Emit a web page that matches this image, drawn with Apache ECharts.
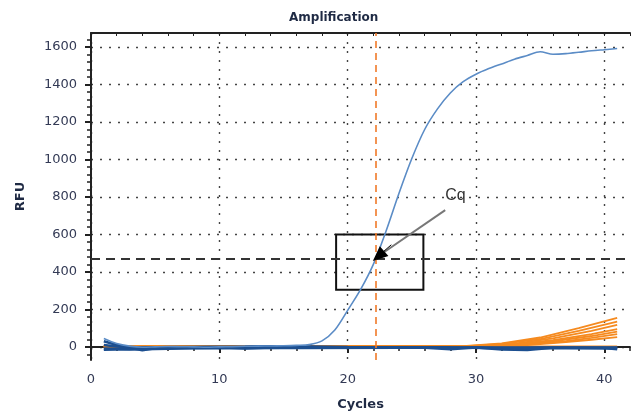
<!DOCTYPE html>
<html>
<head>
<meta charset="utf-8">
<script src="https://cdn.jsdelivr.net/npm/echarts@6/dist/echarts.min.js"></script>
<style>
  html, body { margin: 0; padding: 0; background: #fff; }
  #chart { width: 635px; height: 412px; }
</style>
</head>
<body>
<div id="chart"></div>
<script>
// cycles 1..41
const cycles = [1,2,3,4,5,6,7,8,9,10,11,12,13,14,15,16,17,18,19,20,21,22,23,24,25,26,27,28,29,30,31,32,33,34,35,36,37,38,39,40,41]

// the amplifying sample
const ampRfu = [45,18,4,-2,0,2,1,0,-2,0,1,3,4,5,6,8,12,32,90,195,305,440,620,820,1005,1160,1270,1355,1415,1455,1485,1510,1535,1555,1575,1562,1565,1572,1580,1586,1592]

// flat blue wells near the baseline, [cycle, rfu]
const base1 = [[1,30],[2,10],[3,-5],[4,-18],[5,-8],[7,-4],[10,-2],[12,-8],[14,-3],[20,-2],[26,-5],[28,-12],[30,-3],[32,-14],[34,-16],[36,-5],[40,-6],[41,-12]]
const base2 = [[1,-8],[2,-10],[3,-12],[4,-10],[6,-6],[10,-5],[16,-6],[24,-5],[30,-4],[33,-10],[35,-5],[41,-8]]
const base3 = [[1,10],[2,2],[3,-3],[5,-2],[12,2],[13,4],[16,3],[20,0],[28,-2],[41,-3]]
const base4 = [[1,-15],[2,-14],[4,-12],[8,-7],[15,-4],[25,-3],[33,-6],[41,-5]]

// orange wells that creep up late
const orange1 = [[1,4],[29,4],[32,18],[35,50],[38,100],[41,155]]
const orange2 = [[1,3],[29,3],[32,16],[35,42],[38,85],[41,135]]
const orange3 = [[1,3],[30,3],[33,17],[36,45],[39,85],[41,118]]
const orange4 = [[1,2],[30,2],[33,14],[36,36],[39,68],[41,95]]
const orange5 = [[1,2],[30,2],[33,12],[36,30],[39,58],[41,82]]
const orange6 = [[1,1],[31,1],[34,13],[37,30],[39,48],[41,68]]
const orange7 = [[1,1],[31,1],[34,10],[37,25],[39,38],[41,52]]
const orange8 = [[1,2],[41,2]]

// tick values
const xTicks = [0, 10, 20, 30, 40]
const yTicks = [0, 200, 400, 600, 800, 1000, 1200, 1400, 1600]

const threshold = 470
const cq = 22.2
const cqBox = [[19.1, 305], [25.9, 600]]
const arrowFrom = [27.6, 730]
const arrowTo = [22.4, 485]
const cqLabelAt = [28.4, 805]

const xMin = 0, xMax = 42
const yMin = -70, yMax = 1675

// small ticks every 40 RFU
let yMinorTicks = []
for (let v = -40; v <= 1640; v += 40) yMinorTicks.push(v)

const labelColor = '#333a55'
const font = 'Liberation Sans, Arial, sans-serif'
const boldFont = 'DejaVu Sans, Verdana, sans-serif'

let chart = echarts.init(document.getElementById('chart'))

const dotted = { color: '#444', width: 1.4, type: [2, 7] }

function ampPairs() {
    return cycles.map((c, i) => [c, ampRfu[i]])
}

const oranges = [orange1, orange2, orange3, orange4, orange5, orange6, orange7, orange8]
const bases = [base1, base2, base3, base4]

let series = []
oranges.forEach(d => {
    series.push({
        type: 'line', data: d, showSymbol: false, symbol: 'none',
        lineStyle: { color: '#f58a1f', width: 1.8 }, z: 2
    })
})
bases.forEach(d => {
    series.push({
        type: 'line', data: d, showSymbol: false, symbol: 'none',
        lineStyle: { color: '#1c4f90', width: 2.5 }, z: 3
    })
})
series.push({
    type: 'line', data: ampPairs(), showSymbol: false, symbol: 'none', smooth: 0.3,
    lineStyle: { color: '#5b8cc6', width: 1.6 }, z: 4,
    markLine: {
        silent: true, animation: false,
        symbol: 'none',
        label: { show: false },
        data: [
            { yAxis: threshold, lineStyle: { color: '#333', width: 2, type: [9, 6] } },
            { xAxis: cq, lineStyle: { color: '#f07a28', width: 1.6, type: [7, 5] } },
            [
                { coord: arrowFrom, symbol: 'none', lineStyle: { color: '#777', width: 2, type: 'solid' } },
                { coord: arrowTo, symbol: 'none' }
            ],
            [
                { coord: [23.4, 545], symbol: 'none', lineStyle: { color: '#000', width: 1, type: 'solid' } },
                { coord: arrowTo, symbol: 'triangle', symbolSize: [13, 15] }
            ]
        ]
    },
    markArea: {
        silent: true,
        itemStyle: { color: 'rgba(0,0,0,0)', borderColor: '#111', borderWidth: 2 },
        data: [[{ coord: cqBox[0] }, { coord: cqBox[1] }]]
    },
    markPoint: {
        silent: true, symbol: 'circle', symbolSize: 0,
        label: { show: true, formatter: 'Cq', color: '#333', fontSize: 16, fontFamily: font },
        data: [{ coord: cqLabelAt }]
    }
})

const option = {
    animation: false,
    title: {
        text: 'Amplification', left: 284, top: 7,
        textStyle: { fontSize: 12, fontWeight: 'bold', color: '#1f2a44', fontFamily: boldFont }
    },
    grid: { left: 91, right: 5, top: 33, bottom: 52, outerBoundsMode: 'none', containLabel: false },
    xAxis: [
        {
            type: 'value', min: xMin, max: xMax, position: 'bottom',
            name: 'Cycles', nameLocation: 'middle', nameGap: 38,
            nameTextStyle: { fontSize: 13, fontWeight: 'bold', color: '#1f2a44', fontFamily: boldFont },
            axisLine: { show: true, lineStyle: { color: '#222', width: 2 } },
            axisTick: { show: true, length: 6, customValues: xTicks, lineStyle: { color: '#222', width: 2 } },
            axisLabel: { color: labelColor, fontSize: 13, fontFamily: boldFont, margin: 13, customValues: xTicks },
            splitLine: { show: true, lineStyle: dotted }
        },
        {
            type: 'value', min: xMin, max: xMax, interval: 2, position: 'bottom',
            axisLine: { show: false },
            axisTick: { show: true, length: 4, lineStyle: { color: '#222', width: 1.5 } },
            axisLabel: { show: false }, splitLine: { show: false }
        },
        {
            type: 'value', min: xMin, max: xMax, interval: 2, position: 'top',
            axisLine: { show: true, lineStyle: { color: '#222', width: 2 } },
            axisTick: { show: true, inside: true, length: 3, lineStyle: { color: '#222', width: 1 } },
            axisLabel: { show: false }, splitLine: { show: false }
        }
    ],
    yAxis: [
        {
            type: 'value', min: yMin, max: yMax,
            name: 'RFU', nameLocation: 'middle', nameGap: 64, nameRotate: 90,
            nameTextStyle: { fontSize: 13, fontWeight: 'bold', color: '#1f2a44', fontFamily: boldFont },
            axisLine: { show: true, lineStyle: { color: '#222', width: 2 } },
            axisTick: { show: true, length: 6, customValues: yTicks, lineStyle: { color: '#222', width: 2 } },
            axisLabel: {
                color: labelColor, fontSize: 13, fontFamily: boldFont, margin: 14, customValues: yTicks,
                formatter: v => String(v)
            },
            splitLine: { show: true, lineStyle: dotted }
        },
        {
            type: 'value', min: yMin, max: yMax, position: 'left',
            axisLine: { show: false },
            axisTick: { show: true, length: 4, customValues: yMinorTicks, lineStyle: { color: '#222', width: 1.5 } },
            axisLabel: { show: false }, splitLine: { show: false }
        }
    ],
    series: series
}

chart.setOption(option)
</script>
</body>
</html>
